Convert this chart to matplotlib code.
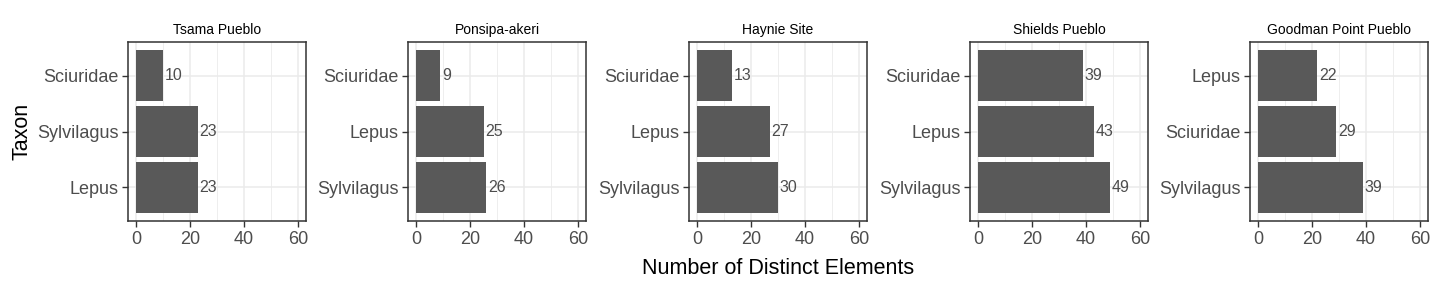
import matplotlib.pyplot as plt

plt.rcParams['font.family'] = ['Liberation Sans', 'DejaVu Sans']

sites = ['Tsama Pueblo', 'Ponsipa-akeri', 'Haynie Site', 'Shields Pueblo', 'Goodman Point Pueblo']
# taxa listed bottom to top for each site
taxa = [
    ['Lepus', 'Sylvilagus', 'Sciuridae'],
    ['Sylvilagus', 'Lepus', 'Sciuridae'],
    ['Sylvilagus', 'Lepus', 'Sciuridae'],
    ['Sylvilagus', 'Lepus', 'Sciuridae'],
    ['Sylvilagus', 'Sciuridae', 'Lepus'],
]
counts = [
    [23, 23, 10],
    [26, 25, 9],
    [30, 27, 13],
    [49, 43, 39],
    [39, 29, 22],
]
xticks = [0, 20, 40, 60]

fig = plt.figure(figsize=(14.4, 2.88), dpi=100)
W, H = 1440, 288
lefts = [128, 408, 689, 970, 1250]
top, bottom = 42, 221
width = 178

dark = '#333333'
grid = '#EBEBEB'
txt = '#4D4D4D'

for i, site in enumerate(sites):
    ax = fig.add_axes([lefts[i] / W, (H - bottom) / H, width / W, (bottom - top) / H])
    pos = list(range(1, len(taxa[i]) + 1))
    ax.barh(pos, counts[i], height=0.9, color='#595959', zorder=3)
    for p, v in zip(pos, counts[i]):
        ax.text(v + 0.6, p, str(v), va='center', ha='left', fontsize=11.5, color=txt, zorder=4)
    ax.set_xlim(-3, 63)
    ax.set_ylim(0.4, 3.6)
    ax.set_xticks(xticks)
    ax.set_xticks([10, 30, 50], minor=True)
    ax.set_yticks(pos)
    ax.set_yticklabels(taxa[i])
    ax.grid(True, which='major', color=grid, linewidth=1.1, zorder=0)
    ax.grid(True, which='minor', axis='x', color=grid, linewidth=0.6, zorder=0)
    ax.set_axisbelow(True)
    ax.tick_params(which='major', length=4, width=1, color=dark, labelsize=13, labelcolor=txt, pad=3)
    ax.tick_params(which='minor', length=0)
    for s in ax.spines.values():
        s.set_color(dark)
        s.set_linewidth(1.1)
    ax.set_title(site, fontsize=10, color='black', pad=6)
    if i == 0:
        ax.set_ylabel('Taxon', fontsize=15.5, labelpad=3)

fig.text(778 / W, 1 - 268 / H, 'Number of Distinct Elements', ha='center', va='center', fontsize=15.5)

fig.savefig('out.png', dpi=100, facecolor='white')
